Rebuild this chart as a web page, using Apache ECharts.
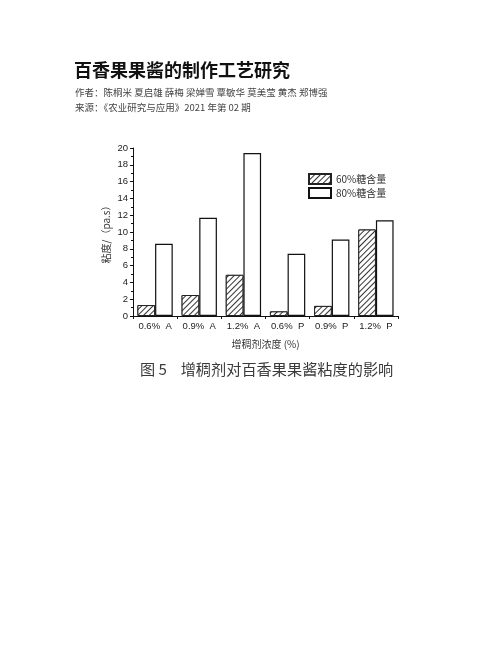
<!DOCTYPE html>
<html><head><meta charset="utf-8">
<script src="https://cdn.jsdelivr.net/npm/echarts@6/dist/echarts.min.js"></script>
<style>html,body{margin:0;padding:0;background:#fff}#c{width:502px;height:649px}</style>
</head><body><div id="c"></div>
<script>
const categories = ['0.6%  A','0.9%  A','1.2%  A','0.6%  P','0.9%  P','1.2%  P'];
const sugar60 = [1.3, 2.5, 4.9, 0.55, 1.2, 10.3];
const sugar80 = [8.6, 11.7, 19.4, 7.4, 9.1, 11.4];
const seriesNames = ['60%糖含量','80%糖含量'];

const chart = echarts.init(document.getElementById('c'), null, {renderer:'canvas'});
const sans = 'Liberation Sans, Arial, sans-serif';
const cjk = '"Noto Sans CJK SC", sans-serif';
chart.setOption({
  backgroundColor:'#fff',
  animation:false,
  title:[
    {text:'百香果果酱的制作工艺研究', left:74, top:61, padding:0, textStyle:{fontFamily:cjk, fontSize:18, fontWeight:'bold', color:'#111'}},
    {text:'作者：陈桐米 夏启雄 薛梅 梁婵雪 覃敏华 莫美莹 黄杰 郑博强', left:75, top:88, padding:0, textStyle:{fontFamily:cjk, fontSize:9.5, fontWeight:'normal', color:'#444'}},
    {text:'来源：《农业研究与应用》2021 年第 02 期', left:75, top:102.5, padding:0, textStyle:{fontFamily:cjk, fontSize:9.5, fontWeight:'normal', color:'#444'}},
    {text:'图 5    增稠剂对百香果果酱粘度的影响', left:140, top:362, padding:0, textStyle:{fontFamily:cjk, fontSize:15.2, fontWeight:'normal', color:'#3a3a3a'}}
  ],
  legend:{
    orient:'vertical', left:308, top:173, padding:0, itemWidth:22, itemHeight:10, itemGap:2,
    icon:'rect',
    textStyle:{fontFamily:cjk, fontSize:10, color:'#333'},
    data:seriesNames
  },
  grid:{left:133, top:148, width:265, height:168, containLabel:false},
  xAxis:{
    type:'category', data:categories,
    name:'增稠剂浓度 (%)', nameLocation:'middle', nameGap:23,
    nameTextStyle:{fontFamily:cjk, fontSize:10, color:'#333'},
    axisLine:{lineStyle:{color:'#111', width:1}},
    axisTick:{show:true, length:3, inside:false, lineStyle:{color:'#111'}},
    axisLabel:{fontFamily:sans, fontSize:9.5, color:'#222', margin:5}
  },
  yAxis:{
    type:'value', min:0, max:20, interval:2,
    name:'粘度/（pa.s）', nameLocation:'middle', nameGap:22, nameRotate:90, nameMoveOverlap:false,
    nameTextStyle:{fontFamily:cjk, fontSize:10, color:'#333'},
    axisLine:{show:true, lineStyle:{color:'#111', width:1}},
    axisTick:{show:true, length:3, inside:false, lineStyle:{color:'#111'}},
    minorTick:{show:true, splitNumber:2, length:2, lineStyle:{color:'#111'}},
    splitLine:{show:false},
    axisLabel:{fontFamily:sans, fontSize:9.5, color:'#222', margin:5}
  },
  series:[
    {name:seriesNames[0], type:'bar', data:sugar60, barWidth:'40%', barGap:'0%',
     itemStyle:{color:'#fff', borderColor:'#222', borderWidth:1,
       decal:{symbol:'rect', symbolSize:1, dashArrayX:[1,0], dashArrayY:[1,2.2], rotation:-Math.PI/4, color:'#333', backgroundColor:'#fff'}}},
    {name:seriesNames[1], type:'bar', data:sugar80, barWidth:'40%', barGap:'0%',
     itemStyle:{color:'#fff', borderColor:'#111', borderWidth:1.2}}
  ]
});
</script></body></html>
